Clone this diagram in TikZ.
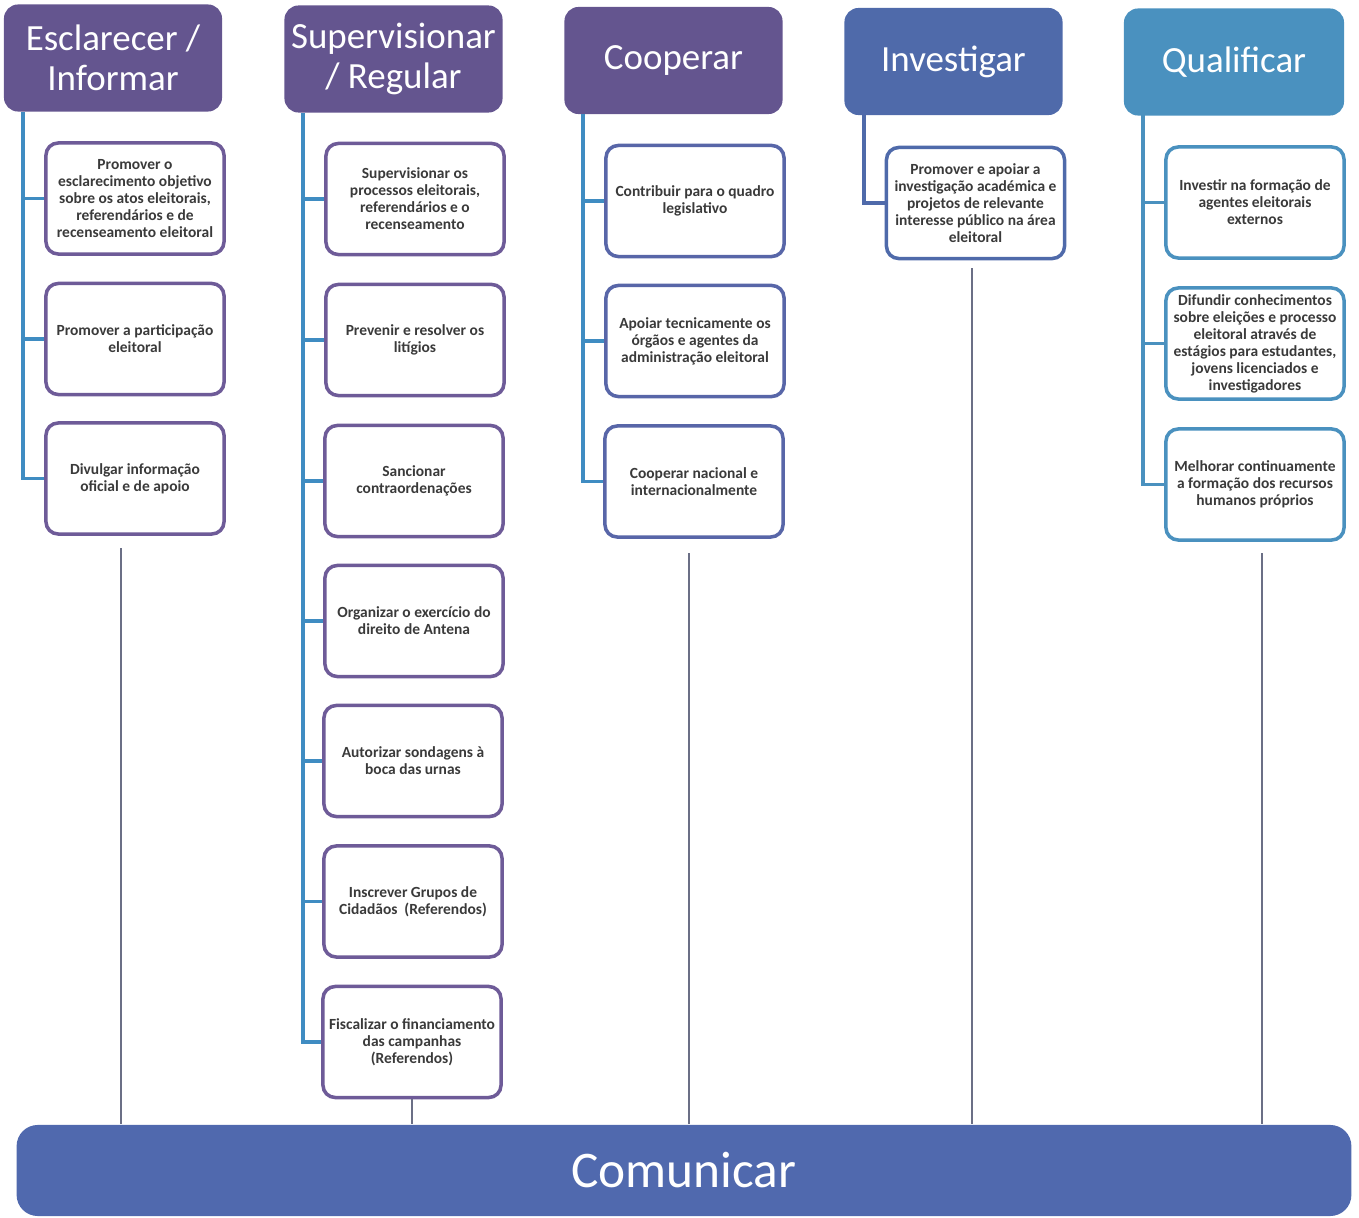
\documentclass[tikz,border=0pt]{standalone}
\usepackage{fontspec}
\setmainfont{Carlito}
\usepackage{xcolor}
\usetikzlibrary{positioning}

\definecolor{hdrpurple}{HTML}{64558F}
\definecolor{hdrblue}{HTML}{4F6AAA}
\definecolor{hdrcyan}{HTML}{4A91BF}
\definecolor{boxpurple}{HTML}{6E5B98}
\definecolor{boxindigo}{HTML}{5866A8}
\definecolor{treeblue}{HTML}{3F8CC2}
\definecolor{bandblue}{HTML}{5069AE}
\definecolor{textgrey}{HTML}{3A3A3A}
\definecolor{linkgrey}{HTML}{6B6F86}

\begin{document}
\begin{tikzpicture}[x=0.01cm, y=-0.01cm,
    header/.style={fill=#1, rounded corners=4pt, minimum width=2.18cm, minimum height=1.07cm,
      text=white, align=center, inner sep=1pt, font=\fontsize{10.5}{11.4}\selectfont},
    item/.style={draw=#1, line width=1pt, rounded corners=3.5pt, fill=white,
      minimum width=1.78cm, minimum height=1.11cm, text=textgrey, align=center, inner sep=1pt,
      font=\fontsize{4.4}{4.84}\selectfont\bfseries},
    tree/.style={draw=#1, line width=1.1pt},
    link/.style={draw=linkgrey, line width=0.45pt}]
    \useasboundingbox (0,0) rectangle (1359,1218);

    % Bottom band
    \node[fill=bandblue, rounded corners=6pt, minimum width=13.34cm, minimum height=0.91cm,
      text=white, font=\fontsize{14.6}{16}\selectfont] (band) at (684,1170.5) {Comunicar};

    % Headers
    \node[header=hdrpurple] (h1) at (113,58) {Esclarecer /\\Informar};
    \node[header=hdrpurple] (h2) at (393.5,59) {Supervisionar\\/ Regular};
    \node[header=hdrpurple] (h3) at (673.5,60.5) {Cooperar};
    \node[header=hdrblue] (h4) at (953.5,61.5) {Investigar};
    \node[header=hdrcyan, minimum width=2.2cm] (h5) at (1234,62) {Qualificar};

    % Esclarecer / Informar
    \node[item=boxpurple] (b11) at (135,198.5) {Promover o\\esclarecimento objetivo\\sobre os atos eleitorais,\\referendários e de\\recenseamento eleitoral};
    \node[item=boxpurple] (b12) at (135,339) {Promover a participação\\eleitoral};
    \node[item=boxpurple] (b13) at (135,478.5) {Divulgar informação\\oficial e de apoio};

    % Supervisionar / Regular
    \node[item=boxpurple] (b21) at (415,199) {Supervisionar os\\processos eleitorais,\\referendários e o\\recenseamento};
    \node[item=boxpurple] (b22) at (415,340) {Prevenir e resolver os\\litígios};
    \node[item=boxpurple] (b23) at (414,481) {Sancionar\\contraordenações};
    \node[item=boxpurple] (b24) at (414,621) {Organizar o exercício do\\direito de Antena};
    \node[item=boxpurple] (b25) at (413,761) {Autorizar sondagens à\\boca das urnas};
    \node[item=boxpurple] (b26) at (413,901.5) {Inscrever Grupos de\\Cidadãos~ (Referendos)};
    \node[item=boxpurple] (b27) at (412,1042) {Fiscalizar o financiamento\\das campanhas\\(Referendos)};

    % Cooperar
    \node[item=boxindigo] (b31) at (695,201) {Contribuir para o quadro\\legislativo};
    \node[item=boxindigo] (b32) at (695,341) {Apoiar tecnicamente os\\órgãos e agentes da\\administração eleitoral};
    \node[item=boxindigo] (b33) at (694,481.5) {Cooperar nacional e\\internacionalmente};

    % Investigar
    \node[item=hdrblue] (b41) at (975.5,203) {Promover e apoiar a\\investigação académica e\\projetos de relevante\\interesse público na área\\eleitoral};

    % Qualificar
    \node[item=hdrcyan] (b51) at (1255,202.5) {Investir na formação de\\agentes eleitorais\\externos};
    \node[item=hdrcyan] (b52) at (1255,343.5) {Difundir conhecimentos\\sobre eleições e processo\\eleitoral através de\\estágios para estudantes,\\jovens licenciados e\\investigadores};
    \node[item=hdrcyan] (b53) at (1255,484.5) {Melhorar continuamente\\a formação dos recursos\\humanos próprios};

    % Tree stems
    \coordinate (s1) at (23,112);
    \coordinate (s2) at (303,113);
    \coordinate (s3) at (583,114);
    \coordinate (s4) at (864,115);
    \coordinate (s5) at (1143,115);
    \foreach \b in {b11,b12,b13} \draw[tree=treeblue] (s1) |- (\b.west);
    \foreach \b in {b21,b22,b23,b24,b25,b26,b27} \draw[tree=treeblue] (s2) |- (\b.west);
    \foreach \b in {b31,b32,b33} \draw[tree=treeblue] (s3) |- (\b.west);
    \draw[tree=hdrblue] (s4) |- (b41.west);
    \foreach \b in {b51,b52,b53} \draw[tree=hdrcyan] (s5) |- (\b.west);

    % Links down to the band
    \coordinate (t1) at (121,548);
    \coordinate (t3) at (689,553);
    \coordinate (t4) at (972,268);
    \coordinate (t5) at (1262,553);
    \foreach \t in {t1,t3,t4,t5} \draw[link] (\t) -- (\t |- band.north);
    \draw[link] (b27.south) -- (b27.south |- band.north);
\end{tikzpicture}
\end{document}
